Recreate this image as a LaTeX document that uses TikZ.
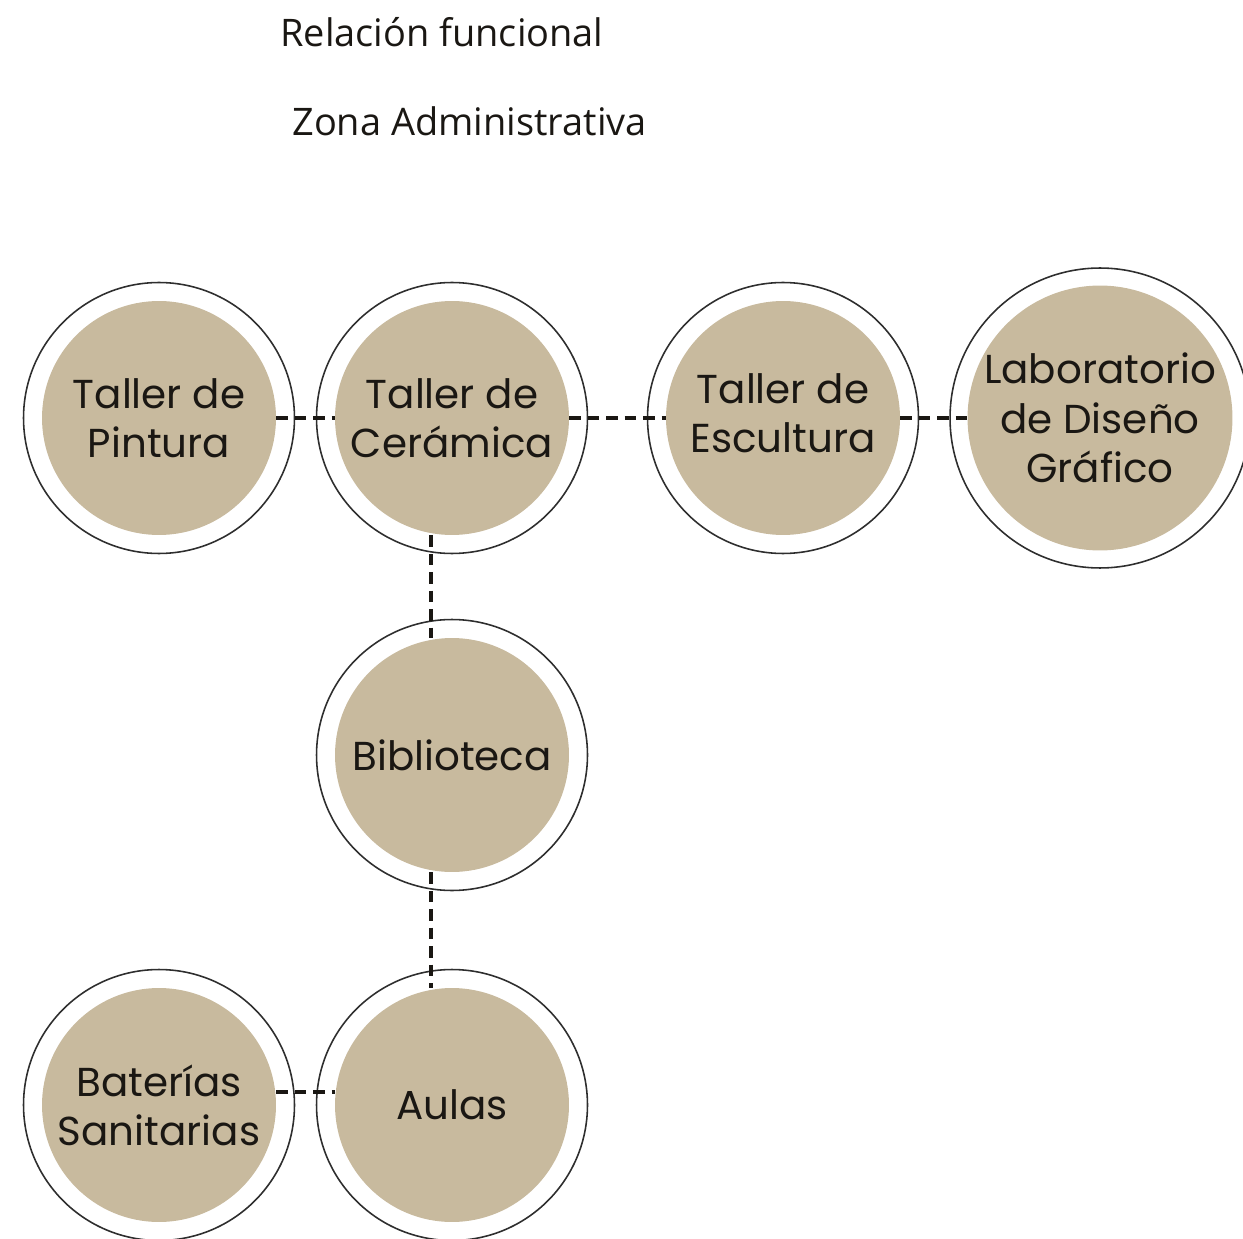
\documentclass[tikz,border=0pt]{standalone}
\usepackage{fontspec}
\setmainfont{Open Sans}
\newfontfamily\roomfont{Poppins}
\usepackage{tikz}
\usetikzlibrary{positioning,calc}
\definecolor{rfTan}{HTML}{C8BA9E}
\definecolor{rfInk}{HTML}{1A1713}
\definecolor{rfRing}{HTML}{2E2E2E}
\tikzset{
  room/.style={circle, fill=rfTan, minimum size=#1, inner sep=0pt, align=center, text=rfInk, font=\roomfont\fontsize{23}{28}\selectfont},
  room/.default=4.68cm,
  ring/.style={draw=rfRing, line width=0.9pt},
  link/.style={draw=rfInk, line width=1.8pt, dash pattern=on 6.5pt off 4pt},
  title/.style={anchor=base west, inner sep=0pt, font=\fontsize{21.6}{26}\selectfont, text=rfInk}
}
\begin{document}
\begin{tikzpicture}[x=0.02cm,y=-0.02cm]
  \useasboundingbox (0,0) rectangle (1243,1239);
  \node[title] (rel) at (280,47) {Relación funcional};
  \node[title] (zona) at (292,136) {Zona Administrativa};
  % workshops row
  \node[room] (pin) at (159,418) {Taller de\\Pintura};
  \node[room] (cer) at (452,418) {Taller de\\Cerámica};
  \node[room] (esc) at (783,418) {\raisebox{0.25cm}{\begin{tabular}{@{}c@{}}Taller de\\Escultura\end{tabular}}};
  \node[room=5.16cm] (lab) at (1100,418) {Laboratorio\\de Diseño\\Gráfico};
  % column below ceramics
  \node[room] (bib) at (452,755) {Biblioteca};
  \node[room] (aul) at (452,1105) {Aulas};
  \node[room] (bat) at (159,1105) {Baterías\\Sanitarias};
  \foreach \n/\r in {pin/2.71,cer/2.71,esc/2.71,bib/2.71,aul/2.71,bat/2.71,lab/3.0}
    \draw[ring] (\n) circle[radius=\r cm];
  % relations
  \draw[link] (pin) -- (cer);
  \draw[link] (cer) -- (esc);
  \draw[link] (esc) -- (lab);
  \draw[link] ([xshift=-0.42cm]cer.south) -- ([xshift=-0.42cm]bib.north);
  \draw[link] ([xshift=-0.42cm]bib.south) -- ([xshift=-0.42cm]aul.north);
  \draw[link] ([yshift=0.26cm]bat.east) -- ([yshift=0.26cm]aul.west);
\end{tikzpicture}
\end{document}
